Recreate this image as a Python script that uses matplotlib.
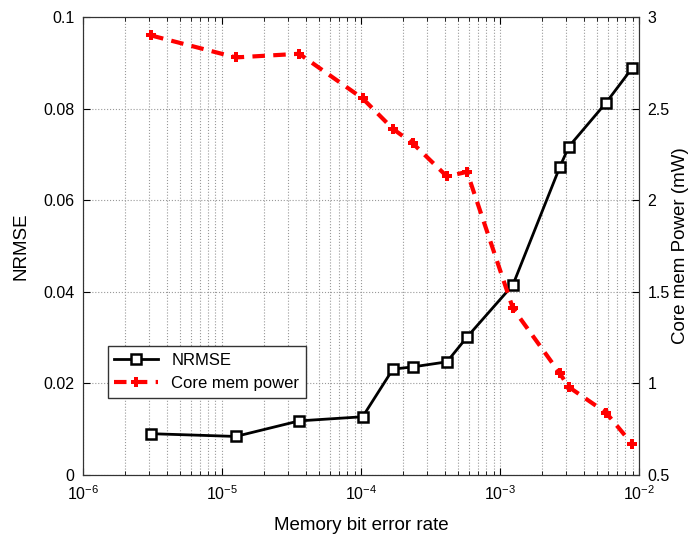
import numpy as np
import matplotlib
matplotlib.use('Agg')
import matplotlib.pyplot as plt
from matplotlib.ticker import LogLocator, NullFormatter

# Data
ber = [3.1e-6, 1.26e-5, 3.6e-5, 1.03e-4, 1.70e-4, 2.37e-4, 4.16e-4, 5.8e-4,
       1.24e-3, 2.70e-3, 3.13e-3, 5.8e-3, 8.9e-3]
nrmse = [0.0090, 0.0084, 0.0118, 0.0127, 0.0231, 0.0236, 0.0247, 0.0301,
         0.0415, 0.0673, 0.0717, 0.0813, 0.0888]
power = [2.90, 2.78, 2.80, 2.556, 2.39, 2.31, 2.13, 2.155,
         1.41, 1.054, 0.98, 0.84, 0.67]

left_ticks = [0, 0.02, 0.04, 0.06, 0.08, 0.1]
left_labels = ['0', '0.02', '0.04', '0.06', '0.08', '0.1']
right_ticks = [0.5, 1, 1.5, 2, 2.5, 3]
right_labels = ['0.5', '1', '1.5', '2', '2.5', '3']

plt.rcParams['font.family'] = ['Liberation Sans', 'DejaVu Sans']

fig = plt.figure(figsize=(6.9, 5.36), dpi=100)
ax = fig.add_axes([0.120, 0.114, 0.806, 0.854])

l1, = ax.plot(ber, nrmse, color='black', lw=2, marker='s', markersize=7,
              markerfacecolor='white', markeredgecolor='black', markeredgewidth=1.8,
              label='NRMSE')
ax.set_xscale('log')
ax.set_xlim(1e-6, 1e-2)
ax.set_ylim(0, 0.1)
ax.set_yticks(left_ticks)
ax.set_yticklabels(left_labels)
ax.xaxis.set_major_locator(LogLocator(base=10, numticks=10))
ax.xaxis.set_minor_locator(LogLocator(base=10, subs=np.arange(2, 10), numticks=20))
ax.xaxis.set_minor_formatter(NullFormatter())
ax.grid(True, which='major', axis='both', linestyle=':', color='#999999', lw=0.8)
ax.grid(True, which='minor', axis='x', linestyle=':', color='#999999', lw=0.8)
ax.tick_params(which='both', direction='in', top=True, labelsize=11.5)
ax.tick_params(which='major', length=5)
ax.tick_params(which='minor', length=3)
ax.tick_params(axis='x', which='major', pad=7)
ax.tick_params(axis='y', which='major', pad=6)
ax.set_xlabel('Memory bit error rate', fontsize=13.5, labelpad=10)
ax.set_ylabel('NRMSE', fontsize=13.5, labelpad=10)

ax2 = ax.twinx()
l2, = ax2.plot(ber, power, color='red', lw=3, linestyle=(0, (3, 2)), marker='P',
               markersize=7, markeredgewidth=0, label='Core mem power')
ax2.set_ylim(0.5, 3)
ax2.set_yticks(right_ticks)
ax2.set_yticklabels(right_labels)
ax2.tick_params(direction='in', labelsize=11.5, length=5, pad=6)
ax2.set_ylabel('Core mem Power (mW)', fontsize=13.5, labelpad=2)

for a in (ax, ax2):
    for s in a.spines.values():
        s.set_color('#333333')

leg = ax2.legend(handles=[l1, l2], loc='lower left', bbox_to_anchor=(0.045, 0.168),
                 borderaxespad=0, fontsize=12, fancybox=False, edgecolor='#333333',
                 framealpha=1, handlelength=2.6)
leg.get_frame().set_linewidth(1.0)

plt.savefig('out.png', dpi=100)
